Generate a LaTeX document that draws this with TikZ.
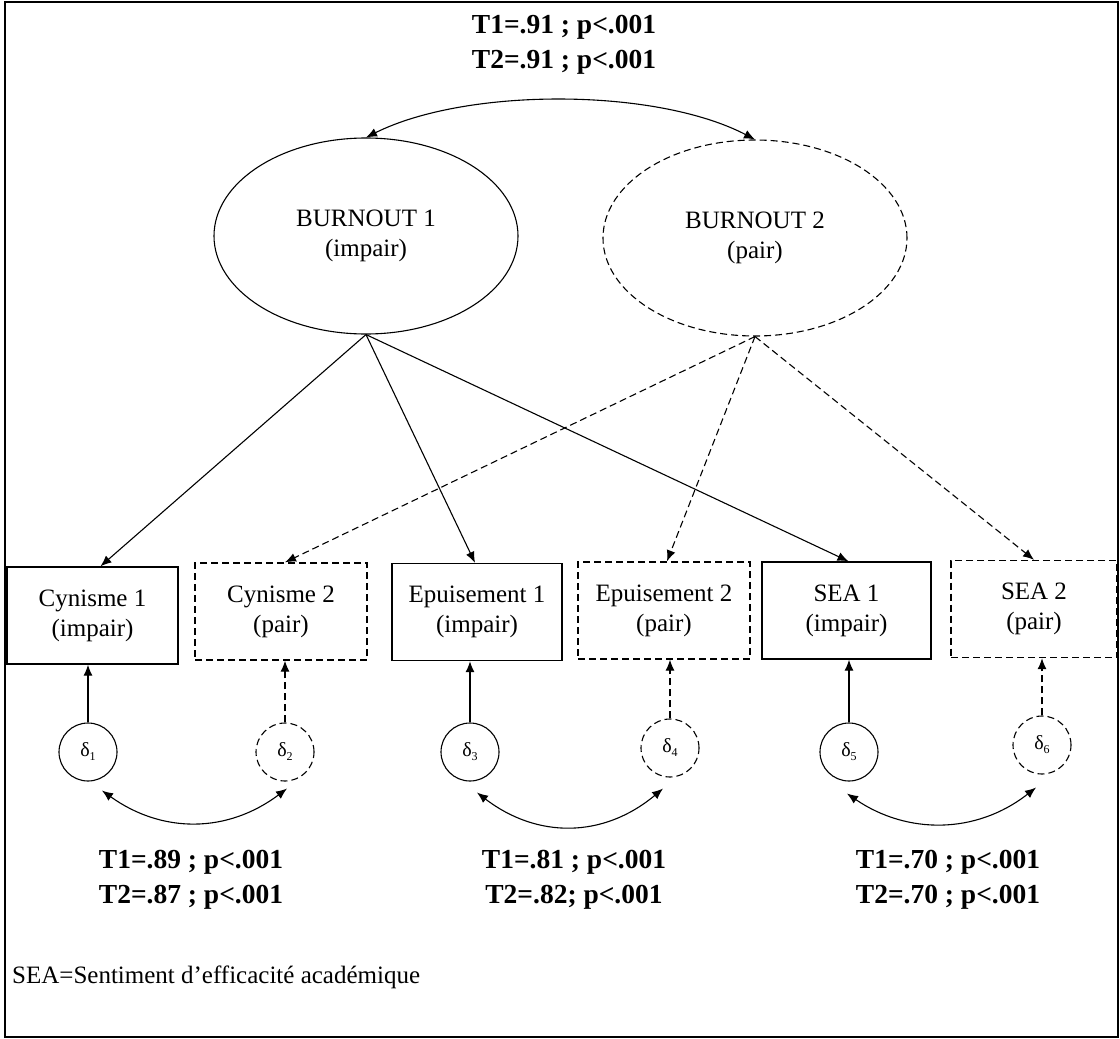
\documentclass[tikz,border=0pt]{standalone}
\usepackage{fontspec}
\setmainfont{Liberation Serif}
\usetikzlibrary{shapes.geometric,arrows.meta}
\newcommand\dsub[1]{δ\raisebox{-4pt}{\fontsize{12}{12}\selectfont #1}}
\begin{document}
\begin{tikzpicture}[x=1pt,y=-1pt,
  ln/.style={line width=1.1pt},
  dsh/.style={dash pattern=on 7pt off 4pt},
  arr/.style={ln,-{Latex[length=11pt,width=9pt]}},
  dbl/.style={ln,{Latex[length=11pt,width=9pt]}-{Latex[length=11pt,width=9pt]}},
  obs/.style={draw,line width=1.4pt,rectangle,minimum height=97pt,inner sep=0pt,align=center,font=\fontsize{25}{30}\selectfont},
  lat/.style={draw,line width=1.1pt,ellipse,minimum width=304pt,minimum height=196pt,inner sep=0pt,align=center,font=\fontsize{25}{30}\selectfont},
  err/.style={draw,line width=1.1pt,circle,minimum size=58pt,inner sep=0pt,font=\fontsize{20}{22}\selectfont},
  stat/.style={align=center,inner sep=0pt,font=\bfseries\fontsize{27.5}{35}\selectfont}
]
\useasboundingbox (0,0) rectangle (1120,1039);
\draw[line width=2pt] (5,2) rectangle (1118,1037);

% top statistics
\node[stat] (top) at (564,45) {T1=.91 ; p<.001\\T2=.91 ; p<.001};

% latent variables
\node[lat] (b1) at (366,236) {BURNOUT 1\\(impair)};
\node[lat,dsh] (b2) at (755,238) {BURNOUT 2\\(pair)};
\draw[dbl] (b1.north) .. controls +(100,-50) and +(-100,-52) .. (b2.north);

% observed variables
\node[obs,minimum width=171pt] (c1) at (92.5,615.5) {Cynisme 1\\(impair)};
\node[obs,dsh,minimum width=172pt] (c2) at (281,611.5) {Cynisme 2\\(pair)};
\node[obs,minimum width=170pt] (e1) at (477,612) {Epuisement 1\\(impair)};
\node[obs,dsh,minimum width=172pt] (e2) at (664,610.5) {Epuisement 2\\(pair)};
\node[obs,minimum width=169pt] (s1) at (846.5,610.5) {SEA 1\\(impair)};
\node[obs,dsh,minimum width=166pt] (s2) at (1034,609) {SEA 2\\(pair)};

% loadings
\draw[arr] (b1.south) -- ([xshift=8pt]c1.north);
\draw[arr] (b1.south) -- ([xshift=-2pt]e1.north);
\draw[arr] (b1.south) -- ([xshift=2pt]s1.north);
\draw[arr,dsh] (b2.south) -- ([xshift=4pt]c2.north);
\draw[arr,dsh] (b2.south) -- ([xshift=3pt]e2.north);
\draw[arr,dsh] (b2.south) -- (s2.north);

% errors
\node[err] (d1) at (88,752) {\dsub{1}};
\node[err,dsh] (d2) at (285,752) {\dsub{2}};
\node[err] (d3) at (470,752) {\dsub{3}};
\node[err,dsh] (d4) at (670,748) {\dsub{4}};
\node[err] (d5) at (849,752) {\dsub{5}};
\node[err,dsh] (d6) at (1042,745) {\dsub{6}};

\draw[arr] (d1.north) -- (d1.north |- c1.south);
\draw[arr,dsh] (d2.north) -- (d2.north |- c2.south);
\draw[arr] (d3.north) -- (d3.north |- e1.south);
\draw[arr,dsh] (d4.north) -- (d4.north |- e2.south);
\draw[arr] (d5.north) -- (d5.north |- s1.south);
\draw[arr,dsh] (d6.north) -- (d6.north |- s2.south);

% error covariances
\draw[dbl] ([shift={(14pt,-9pt)}]d1.south) .. controls +(60,43) and +(-60,45) .. ([shift={(2pt,-7pt)}]d2.south);
\draw[dbl] ([shift={(7pt,-11pt)}]d3.south) .. controls +(60,46) and +(-60,50) .. ([shift={(-7pt,-11pt)}]d4.south);
\draw[dbl] ([shift={(-2pt,-12pt)}]d5.south) .. controls +(60,41) and +(-60,47) .. ([shift={(-6pt,-13pt)}]d6.south);

% bottom statistics
\node[stat] (t1) at (191,880) {T1=.89 ; p<.001\\T2=.87 ; p<.001};
\node[stat] (t2) at (574,880) {T1=.81 ; p<.001\\T2=.82; p<.001};
\node[stat] (t3) at (948,880) {T1=.70 ; p<.001\\T2=.70 ; p<.001};

% note
\node[anchor=west,inner sep=0pt,font=\fontsize{25}{30}\selectfont] (note) at (12,977) {SEA=Sentiment d’efficacité académique};
\end{tikzpicture}
\end{document}
